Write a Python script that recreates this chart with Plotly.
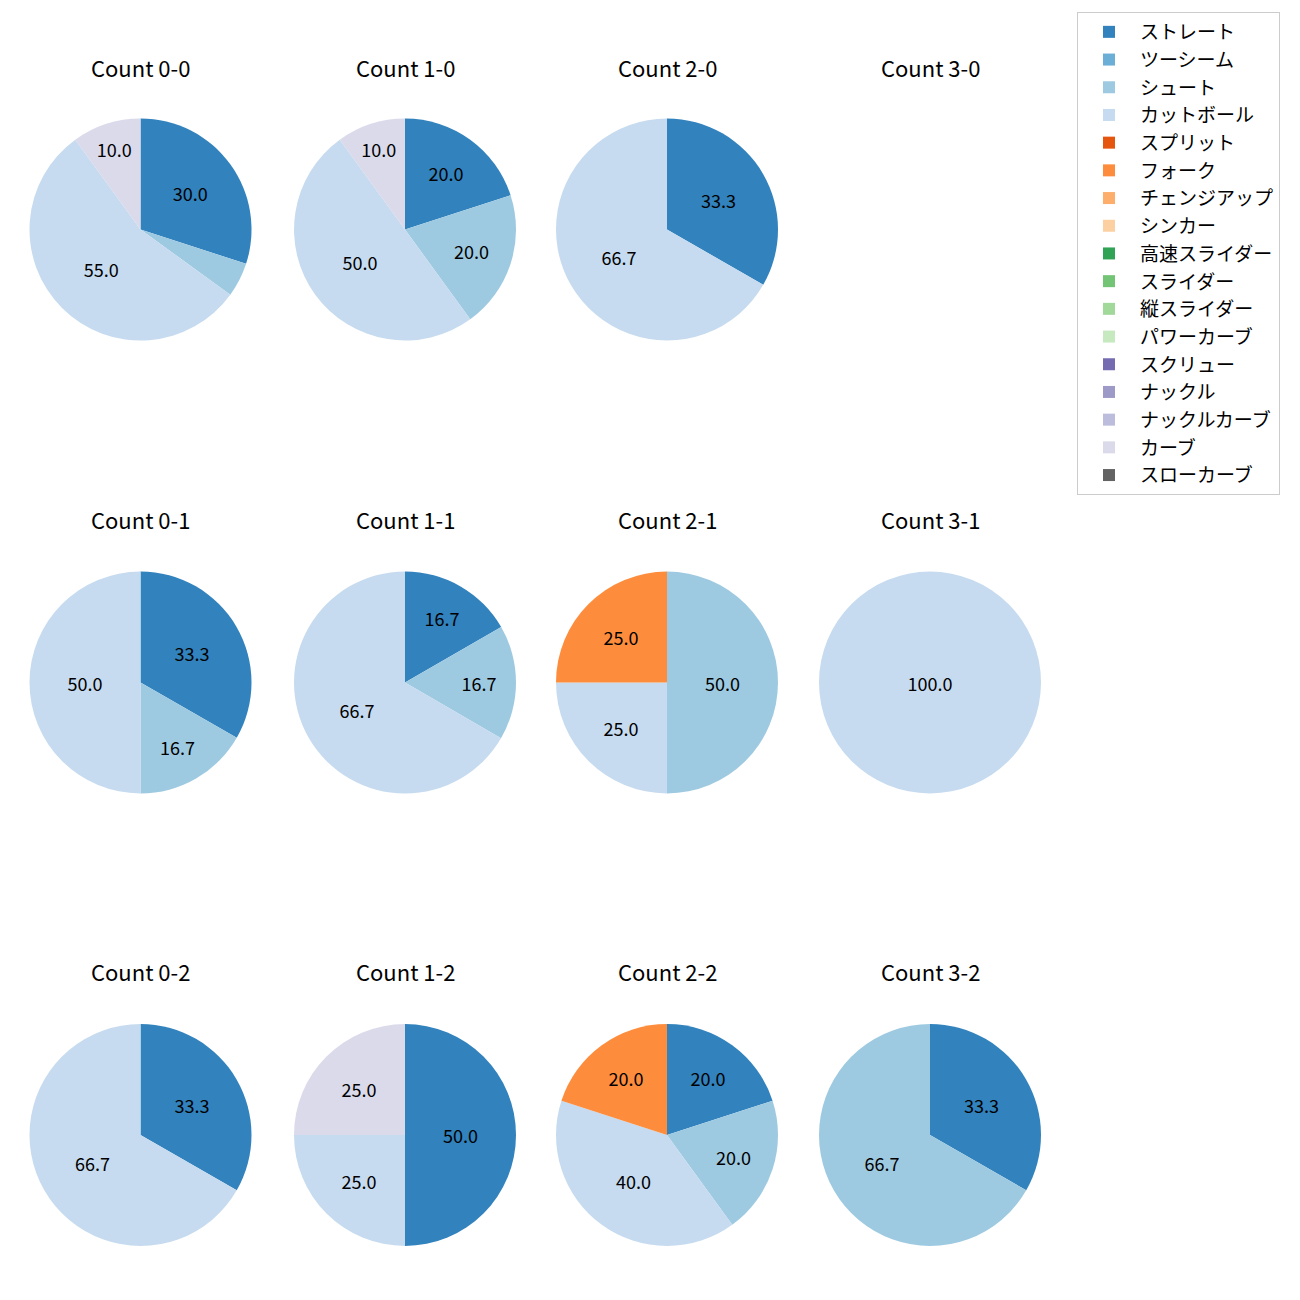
import plotly.graph_objects as go

pitch_types = ["ストレート", "ツーシーム", "シュート", "カットボール", "スプリット", "フォーク",
               "チェンジアップ", "シンカー", "高速スライダー", "スライダー", "縦スライダー",
               "パワーカーブ", "スクリュー", "ナックル", "ナックルカーブ", "カーブ", "スローカーブ"]
colors = ["#3182bd", "#6baed6", "#9ecae1", "#c6dbef", "#e6550d", "#fd8d3c", "#fdae6b", "#fdd0a2",
          "#31a354", "#74c476", "#a1d99b", "#c7e9c0", "#756bb1", "#9e9ac8", "#bcbddc", "#dadaeb",
          "#636363"]

counts = ["0-0", "1-0", "2-0", "3-0",
          "0-1", "1-1", "2-1", "3-1",
          "0-2", "1-2", "2-2", "3-2"]

# percentage per pitch type; empty dict = empty panel
shares = {
    "0-0": {"ストレート": 30.0, "シュート": 5.0, "カットボール": 55.0, "カーブ": 10.0},
    "1-0": {"ストレート": 20.0, "シュート": 20.0, "カットボール": 50.0, "カーブ": 10.0},
    "2-0": {"ストレート": 33.3, "カットボール": 66.7},
    "3-0": {},
    "0-1": {"ストレート": 33.3, "シュート": 16.7, "カットボール": 50.0},
    "1-1": {"ストレート": 16.7, "シュート": 16.7, "カットボール": 66.7},
    "2-1": {"シュート": 50.0, "カットボール": 25.0, "フォーク": 25.0},
    "3-1": {"カットボール": 100.0},
    "0-2": {"ストレート": 33.3, "カットボール": 66.7},
    "1-2": {"ストレート": 50.0, "カットボール": 25.0, "カーブ": 25.0},
    "2-2": {"ストレート": 20.0, "シュート": 20.0, "カットボール": 40.0, "フォーク": 20.0},
    "3-2": {"ストレート": 33.3, "シュート": 66.7},
}

W = 1300.0
OFF = 8  # page body margin
col_centers = [140.5 - OFF, 405 - OFF, 667 - OFF, 930 - OFF]
row_centers = [229.5 - OFF, 682.5 - OFF, 1135 - OFF]
half = 111
title_y = [67 - OFF, 519 - OFF, 971 - OFF]

fig = go.Figure()
annotations = []
first = True
for i, c in enumerate(counts):
    r, k = divmod(i, 4)
    cx, cy = col_centers[k], row_centers[r]
    annotations.append(dict(text=f"Count {c}", x=cx / W, y=1 - title_y[r] / W, xref="paper", yref="paper",
                            showarrow=False, xanchor="center", yanchor="middle",
                            font=dict(size=22, color="black")))
    d = shares[c]
    if not d:
        continue
    vals = [d.get(p, 0) for p in pitch_types]
    texts = [f"{v:.1f}" if v > 5.0 else "" for v in vals]
    fig.add_trace(go.Pie(
        labels=pitch_types, values=vals, text=texts, textinfo="text",
        marker=dict(colors=colors), sort=False, direction="clockwise", rotation=0,
        textposition="inside", insidetextorientation="horizontal",
        textfont=dict(size=18, color="black"),
        domain=dict(x=[(cx - half) / W, (cx + half) / W], y=[1 - (cy + half) / W, 1 - (cy - half) / W]),
        showlegend=first, hoverinfo="label+percent",
    ))
    first = False

fig.update_layout(
    width=1300, height=1300,
    margin=dict(l=0, r=0, t=0, b=0),
    paper_bgcolor="white", plot_bgcolor="white",
    font=dict(family="Noto Sans CJK JP", color="black"),
    annotations=annotations,
    legend=dict(x=(1077 - OFF) / W, y=1 - (12 - OFF) / W, xanchor="left", yanchor="top",
                bgcolor="white", bordercolor="#cccccc", borderwidth=1,
                font=dict(size=19), traceorder="normal", itemwidth=52),
    uniformtext=dict(minsize=18, mode="show"),
)
fig.write_html("out.html")
